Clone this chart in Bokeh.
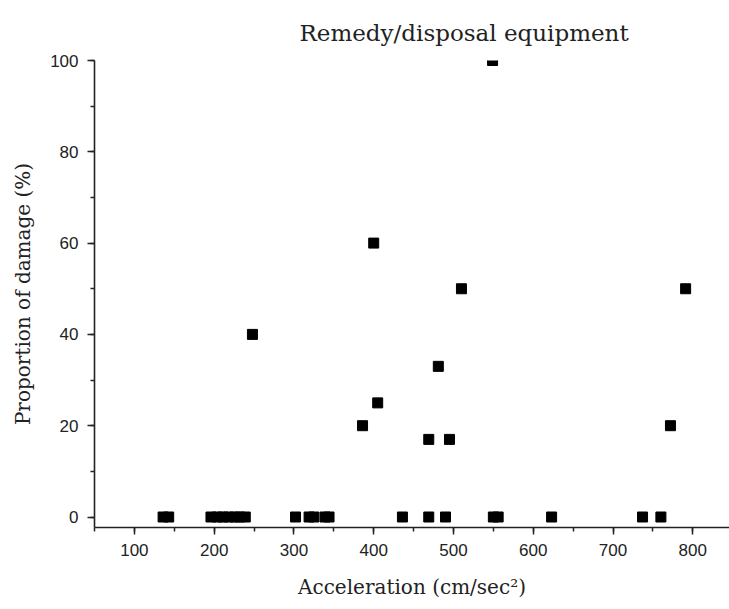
from bokeh.plotting import figure
from bokeh.models import SingleIntervalTicker, ColumnDataSource
from bokeh.embed import file_html
from bokeh.resources import INLINE

# Acceleration (cm/sec^2) and proportion of damage (%)
accel_zero = [136, 143, 196, 204, 211, 218, 226, 232, 239, 302, 319, 325, 339, 344,
              436, 469, 490, 550, 556, 623, 737, 760]
damage_zero = [0] * len(accel_zero)
accel_nz = [549, 400, 510, 791, 248, 481, 405, 386, 772, 469, 495]
damage_nz = [100, 60, 50, 50, 40, 33, 25, 20, 20, 17, 17]

accel = accel_zero + accel_nz
damage = damage_zero + damage_nz

title_text = "Remedy/disposal equipment"
x_label = "Acceleration (cm/sec\u00b2)"
y_label = "Proportion of damage (%)"

src = ColumnDataSource(dict(x=accel, y=damage))

p = figure(width=729, height=609, output_backend="svg", toolbar_location=None,
           x_range=(50, 846), y_range=(-2.3, 100),
           min_border_left=94, min_border_right=0, min_border_top=60,
           min_border_bottom=82)

p.title.text = title_text
p.title.align = "left"
p.title.offset = 205
p.title.standoff = 29
p.title.text_font = "DejaVu Serif"
p.title.text_font_size = "23px"
p.title.text_font_style = "normal"
p.title.text_color = "#222222"

p.scatter("x", "y", source=src, marker="square", size=10,
          fill_color="black", line_color="black")

p.xgrid.visible = False
p.ygrid.visible = False
p.outline_line_color = None
p.background_fill_color = "white"
p.border_fill_color = "white"

p.xaxis.ticker = SingleIntervalTicker(interval=100, num_minor_ticks=2)
p.yaxis.ticker = SingleIntervalTicker(interval=20, num_minor_ticks=2)

for ax in (p.xaxis[0], p.yaxis[0]):
    ax.axis_line_width = 1.6
    ax.axis_line_color = "#222222"
    ax.major_tick_line_color = "#222222"
    ax.minor_tick_line_color = "#222222"
    ax.major_tick_line_width = 1.5
    ax.minor_tick_line_width = 1.5
    ax.major_tick_out = 7
    ax.major_tick_in = 0
    ax.minor_tick_out = 4
    ax.minor_tick_in = 0
    ax.major_label_text_font = "Liberation Sans"
    ax.major_label_text_font_size = "17px"
    ax.major_label_text_color = "#222222"
    ax.major_label_standoff = 9
    ax.axis_label_text_font = "DejaVu Serif"
    ax.axis_label_text_font_size = "20px"
    ax.axis_label_text_font_style = "normal"
    ax.axis_label_text_color = "#222222"

p.xaxis.axis_label = x_label
p.yaxis.axis_label = y_label
p.xaxis.axis_label_standoff = 16
p.yaxis.axis_label_standoff = 12

open("out.html", "w").write(file_html(p, INLINE))
